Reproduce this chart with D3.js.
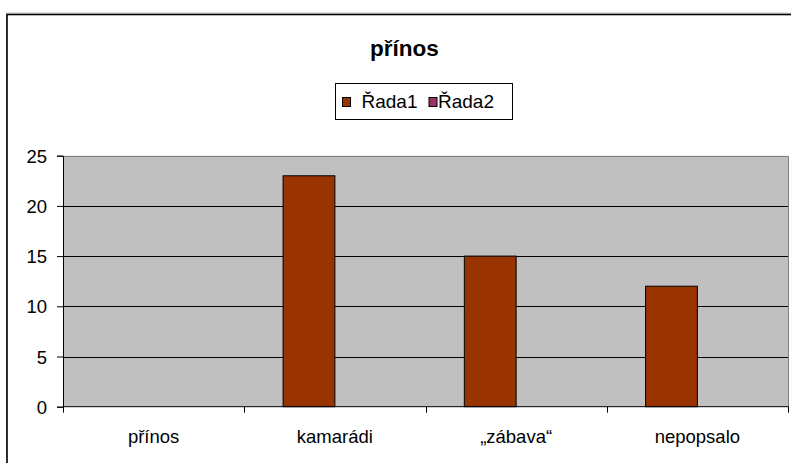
<!DOCTYPE html>
<html>
<head>
<meta charset="utf-8">
<script src="https://cdn.jsdelivr.net/npm/d3@7"></script>
<style>
html,body{margin:0;padding:0;background:#fff;}
svg{display:block;}
text{font-family:"Liberation Sans",Arial,sans-serif;fill:#000;}
</style>
</head>
<body>
<svg id="chart" width="791" height="463"></svg>
<script>
const title = "přínos";
const categories = ["přínos", "kamarádi", "„zábava“", "nepopsalo"];
const seriesNames = ["Řada1", "Řada2"];
const seriesColors = ["#993300", "#993366"];
const rada1 = [null, 23, 15, 12];
const rada2 = [null, null, null, null];
const yTicks = [0, 5, 10, 15, 20, 25];

const series = [rada1, rada2];
const svg = d3.select("#chart");

const plot = {left: 63, right: 788, top: 155.7, bottom: 406.7};

// outer chart border
svg.append("rect").attr("x", 6.5).attr("y", 13).attr("width", 820).attr("height", 470)
  .attr("fill", "none").attr("stroke", "#c8c8c8").attr("stroke-width", 1);
svg.append("rect").attr("x", 7).attr("y", 14.5).attr("width", 820).attr("height", 470)
  .attr("fill", "#fff").attr("stroke", "#000").attr("stroke-width", 1.6);

// title
svg.append("text").attr("x", 404.5).attr("y", 56).attr("text-anchor", "middle")
  .style("font-size", "22.5px").style("font-weight", "bold").text(title);

const x = d3.scaleBand().domain(categories).range([plot.left, plot.right]).padding(0);
const xs = d3.scaleBand().domain(seriesNames).range([0, x.bandwidth()])
  .paddingInner(0).paddingOuter(0.75);
const y = d3.scaleLinear().domain([0, 25]).range([plot.bottom, plot.top]);

// plot background
svg.append("rect").attr("x", plot.left).attr("y", plot.top)
  .attr("width", plot.right - plot.left).attr("height", plot.bottom - plot.top)
  .attr("fill", "#c0c0c0");

// gridlines
svg.append("g").selectAll("line").data(yTicks.filter(t => t > 0 && t < 25)).join("line")
  .attr("x1", plot.left).attr("x2", plot.right)
  .attr("y1", d => Math.round(y(d)) + 0.5).attr("y2", d => Math.round(y(d)) + 0.5)
  .attr("stroke", "#000").attr("stroke-width", 1);

// plot border (top & right gray)
svg.append("path")
  .attr("d", `M${plot.left},${Math.round(plot.top)+0.5}H${plot.right+0.5}V${plot.bottom}`)
  .attr("fill", "none").attr("stroke", "#808080").attr("stroke-width", 1);

// bars
series.forEach((vals, si) => {
  svg.append("g").selectAll("rect")
    .data(categories.map((c, i) => ({c, v: vals[i]})).filter(d => d.v != null))
    .join("rect")
    .attr("x", d => x(d.c) + xs(seriesNames[si]))
    .attr("y", d => y(d.v))
    .attr("width", xs.bandwidth())
    .attr("height", d => y(0) - y(d.v))
    .attr("fill", seriesColors[si]).attr("stroke", "#000").attr("stroke-width", 1);
});

// y axis
const yAxis = d3.axisLeft(y).tickValues(yTicks).tickSize(6).tickPadding(10);
const gy = svg.append("g").attr("transform", `translate(${plot.left},0)`).call(yAxis);
gy.select(".domain").attr("stroke", "#000");
gy.selectAll(".tick line").attr("stroke", "#000");
gy.selectAll(".tick text").style("font-size", "18.5px").style("font-family", "Liberation Sans, Arial, sans-serif")
  .attr("fill", "#000").attr("dy", "0.36em");

// x axis
const gx = svg.append("g").attr("transform", `translate(0,${plot.bottom})`);
gx.append("line").attr("x1", plot.left).attr("x2", plot.right + 0.5).attr("y1", 0).attr("y2", 0)
  .attr("stroke", "#000");
const boundaries = categories.map(c => x(c)).concat([plot.right]);
gx.selectAll("line.tk").data(boundaries).join("line").attr("class", "tk")
  .attr("x1", d => Math.round(d) + 0.5).attr("x2", d => Math.round(d) + 0.5)
  .attr("y1", 0).attr("y2", 6).attr("stroke", "#000");
gx.selectAll("text").data(categories).join("text")
  .attr("x", d => x(d) + x.bandwidth() / 2).attr("y", 36.6)
  .attr("text-anchor", "middle").style("font-size", "18.5px").text(d => d);

// legend
const lg = svg.append("g");
lg.append("rect").attr("x", 335.5).attr("y", 83.5).attr("width", 177).attr("height", 36)
  .attr("fill", "#fff").attr("stroke", "#000").attr("stroke-width", 1);
const legendItems = [{sw: 342.5, tx: 361.5}, {sw: 429, tx: 438}];
seriesNames.forEach((s, i) => {
  lg.append("rect").attr("x", legendItems[i].sw).attr("y", 97.5).attr("width", 8).attr("height", 9)
    .attr("fill", seriesColors[i]).attr("stroke", "#000").attr("stroke-width", 1);
  lg.append("text").attr("x", legendItems[i].tx).attr("y", 107.5)
    .style("font-size", "19px").text(s);
});
</script>
</body>
</html>
